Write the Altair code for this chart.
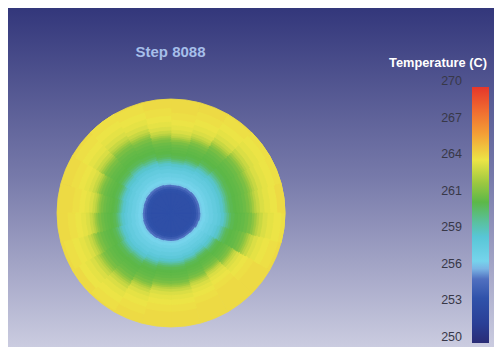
import altair as alt
import numpy as np
import pandas as pd

# ---- text ----
TITLE = "Step 8088"
LEGEND_TITLE = "Temperature (C)"

# ---- colour map (temperature -> colour) ----
CMAP_T = [250, 251.5, 253.5, 255.0, 255.8, 256.4, 258.3, 259.5, 261.0, 262.5, 264.3, 266.3, 268.2, 270]
CMAP_HEX = ["#2a2c76", "#2a3f96", "#3052aa", "#5070c0", "#7ab4e4", "#76d4ec", "#58c6d6",
            "#5ac09c", "#5cb848", "#9cc840", "#ece446", "#f4a036", "#f06a30", "#e6362a"]
T_MIN, T_MAX = 250, 270
LEGEND_TICKS = list(np.linspace(T_MIN, T_MAX, 8))

# ---- radial temperature profile of the disc (outer radius of band, normalised) ----
RING_OUTER = [0.175, 0.193, 0.211, 0.228, 0.246, 0.263, 0.289, 0.316, 0.351, 0.386, 0.412,
              0.439, 0.456, 0.474, 0.491, 0.518, 0.544, 0.570, 0.596, 0.623, 0.649, 0.667,
              0.684, 0.702, 0.728, 0.763, 0.807, 0.860, 0.930, 1.0]
RING_TEMP = [253.2, 253.3, 253.5, 254.0, 254.9, 256.2, 256.4, 256.8, 257.2, 257.6, 258.0,
             258.5, 259.1, 259.8, 260.4, 260.8, 261.0, 261.1, 261.2, 261.4, 261.7, 262.1,
             262.6, 263.1, 263.5, 263.9, 264.15, 264.3, 264.45, 264.6]

# ---- angular spread of the green band (factor at its outer edge), clockwise from top ----
SECTOR_STRETCH = [0.96, 0.99, 1.04, 1.08, 1.07, 1.06, 1.09, 1.03, 0.93, 0.89, 0.92, 0.95,
                  0.95, 0.99, 1.04, 1.06, 1.03, 0.98, 0.95, 0.98, 1.03, 1.06, 1.04, 0.99]
EDGE_R = 0.64

n_sec = len(SECTOR_STRETCH)
step = 360.0 / n_sec
rows = []
for j, f in enumerate(SECTOR_STRETCH):
    for r, t in zip(RING_OUTER, RING_TEMP):
        rs = 1.0 if r >= 1.0 else min(1.0, r * (1 + (f - 1) * r / EDGE_R))
        rows.append({"t0": j * step, "t1": (j + 1) * step, "r": rs, "temp": t})
disc_df = pd.DataFrame(rows).sort_values("r", ascending=False).reset_index(drop=True)

W, H = 486, 339
DISC_R = 114

temp_scale = alt.Scale(domain=CMAP_T, range=CMAP_HEX, interpolate="rgb")
one = pd.DataFrame({"k": [0]})

# background panel
bg = alt.Chart(one).mark_rect(
    color=alt.Gradient(
        gradient="linear",
        stops=[alt.GradientStop(color="#33377b", offset=0),
               alt.GradientStop(color="#777aaa", offset=0.5),
               alt.GradientStop(color="#cbcce0", offset=1)],
        x1=0, x2=0, y1=0, y2=1,
    )
).encode(x=alt.value(0), x2=alt.value(W), y=alt.value(0), y2=alt.value(H))

# temperature disc
disc = alt.Chart(disc_df).mark_arc(strokeWidth=0.8).encode(
    theta=alt.Theta("t0:Q", scale=alt.Scale(domain=[0, 360], range=[0, 2 * np.pi]), stack=None),
    theta2="t1:Q",
    radius=alt.Radius("r:Q", scale=alt.Scale(domain=[0, 1], range=[0, DISC_R], zero=True)),
    color=alt.Color("temp:Q", scale=temp_scale, legend=None),
    stroke=alt.Stroke("temp:Q", scale=temp_scale, legend=None),
    order=alt.Order("r:Q", sort="descending"),
    x=alt.value(163),
    y=alt.value(205),
)

title = alt.Chart(one).mark_text(
    text=TITLE, font="Liberation Sans", fontSize=15, fontWeight="bold",
    color="#a6bfea", align="center", baseline="alphabetic",
).encode(x=alt.value(162.5), y=alt.value(49))

legend_title = alt.Chart(one).mark_text(
    text=LEGEND_TITLE, font="Liberation Sans", fontSize=12.8, fontWeight="bold",
    color="white", align="center", baseline="alphabetic",
).encode(x=alt.value(430), y=alt.value(58.5))

# colour bar
leg_y = alt.Scale(domain=[T_MIN, T_MAX], range=[335, 79])
bar = alt.Chart(one).mark_rect(
    color=alt.Gradient(
        gradient="linear",
        stops=[alt.GradientStop(color=c, offset=(t - T_MIN) / (T_MAX - T_MIN))
               for t, c in zip(CMAP_T, CMAP_HEX)],
        x1=0, x2=0, y1=1, y2=0,
    )
).encode(
    x=alt.value(464), x2=alt.value(481),
    y=alt.Y("lo:Q", scale=leg_y, axis=None), y2="hi:Q",
).transform_calculate(lo=str(T_MIN), hi=str(T_MAX))

ticks = alt.Chart(pd.DataFrame({"v": LEGEND_TICKS})).mark_text(
    font="Liberation Sans", fontSize=12.5, color="#383848", align="right",
    baseline="middle", dy=-6,
).encode(
    x=alt.value(454),
    y=alt.Y("v:Q", scale=leg_y, axis=None),
    text=alt.Text("v:Q", format=".0f"),
)

chart = alt.layer(bg, disc, title, legend_title, bar, ticks).properties(
    width=W, height=H,
    padding={"left": 8, "top": 8, "right": 0, "bottom": 0},
    autosize=alt.AutoSizeParams(type="none"),
    background="white",
).configure_view(stroke=None).resolve_scale(color="shared")

chart.save("out.html", embed_options={"renderer": "svg", "actions": False})
